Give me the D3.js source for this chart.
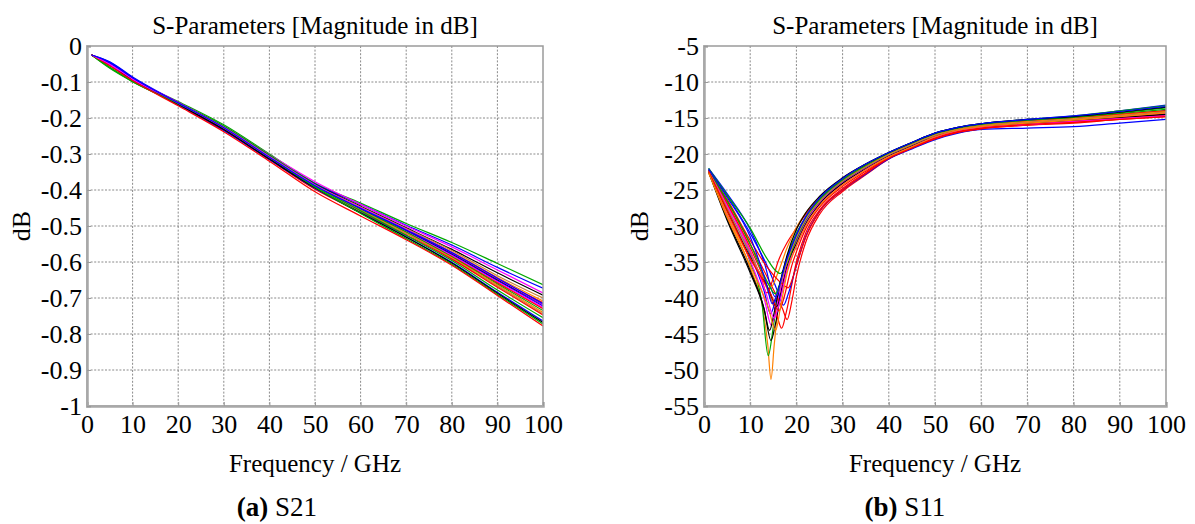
<!DOCTYPE html>
<html>
<head>
<meta charset="utf-8">
<script src="https://cdn.jsdelivr.net/npm/d3@7/dist/d3.min.js"></script>
<style>
  body { margin: 0; background: #fff; }
  svg { display: block; }
  svg text { font-family: "Liberation Serif", "Times New Roman", serif; }
</style>
</head>
<body>
<svg width="1195" height="524"></svg>
<script>
// ---- data ----
var xTicks = [0, 10, 20, 30, 40, 50, 60, 70, 80, 90, 100];

var y21Ticks = [0, -0.1, -0.2, -0.3, -0.4, -0.5, -0.6, -0.7, -0.8, -0.9, -1];
var y21Labels = ["0", "-0.1", "-0.2", "-0.3", "-0.4", "-0.5", "-0.6", "-0.7", "-0.8", "-0.9", "-1"];
var y11Ticks = [-5, -10, -15, -20, -25, -30, -35, -40, -45, -50, -55];
var y11Labels = ["-5", "-10", "-15", "-20", "-25", "-30", "-35", "-40", "-45", "-50", "-55"];

// S21: one frequency grid, one value array per trace
var freq21 = [1, 5, 10, 20, 30, 40, 50, 60, 70, 80, 90, 100];
var s21Colors = ["#00a800", "#0000ff", "#ff00ff", "#000000", "#c8803c", "#ff8000", "#ff0000", "#000000",
                 "#0000ff", "#ff00ff", "#ff0000", "#00a800", "#ff8000", "#c8803c", "#ff0000", "#00a800",
                 "#0000ff", "#000000", "#00a800", "#ff0000", "#ff00ff", "#0000ff"];
var s21Values = [
  [-0.025, -0.050, -0.092, -0.154, -0.219, -0.300, -0.381, -0.436, -0.493, -0.546, -0.604, -0.663],
  [-0.025, -0.044, -0.086, -0.157, -0.225, -0.304, -0.383, -0.440, -0.498, -0.553, -0.615, -0.673],
  [-0.025, -0.048, -0.090, -0.156, -0.223, -0.302, -0.377, -0.440, -0.500, -0.558, -0.622, -0.686],
  [-0.025, -0.050, -0.092, -0.158, -0.226, -0.306, -0.384, -0.445, -0.505, -0.565, -0.630, -0.692],
  [-0.025, -0.051, -0.093, -0.159, -0.227, -0.307, -0.386, -0.447, -0.507, -0.568, -0.638, -0.700],
  [-0.025, -0.052, -0.093, -0.160, -0.228, -0.308, -0.388, -0.450, -0.510, -0.572, -0.643, -0.708],
  [-0.025, -0.053, -0.094, -0.161, -0.229, -0.310, -0.389, -0.452, -0.512, -0.575, -0.647, -0.713],
  [-0.025, -0.052, -0.093, -0.160, -0.228, -0.309, -0.389, -0.453, -0.514, -0.578, -0.650, -0.718],
  [-0.025, -0.047, -0.090, -0.159, -0.228, -0.309, -0.390, -0.454, -0.515, -0.580, -0.652, -0.722],
  [-0.025, -0.050, -0.092, -0.159, -0.227, -0.309, -0.390, -0.455, -0.516, -0.582, -0.655, -0.726],
  [-0.025, -0.054, -0.095, -0.162, -0.231, -0.313, -0.393, -0.457, -0.518, -0.585, -0.658, -0.730],
  [-0.025, -0.062, -0.099, -0.158, -0.222, -0.303, -0.385, -0.452, -0.517, -0.586, -0.661, -0.735],
  [-0.025, -0.053, -0.094, -0.161, -0.230, -0.311, -0.392, -0.457, -0.520, -0.588, -0.664, -0.740],
  [-0.025, -0.052, -0.094, -0.161, -0.229, -0.311, -0.392, -0.458, -0.521, -0.590, -0.667, -0.744],
  [-0.025, -0.054, -0.095, -0.163, -0.233, -0.316, -0.398, -0.462, -0.525, -0.592, -0.670, -0.747],
  [-0.025, -0.059, -0.098, -0.160, -0.225, -0.306, -0.388, -0.458, -0.526, -0.596, -0.678, -0.755],
  [-0.025, -0.048, -0.091, -0.163, -0.235, -0.315, -0.395, -0.463, -0.530, -0.601, -0.684, -0.764],
  [-0.025, -0.053, -0.094, -0.162, -0.232, -0.314, -0.394, -0.464, -0.531, -0.603, -0.687, -0.768],
  [-0.025, -0.060, -0.099, -0.160, -0.226, -0.308, -0.392, -0.465, -0.535, -0.606, -0.690, -0.772],
  [-0.025, -0.055, -0.096, -0.166, -0.238, -0.320, -0.405, -0.472, -0.538, -0.609, -0.693, -0.778],
  [-0.025, -0.051, -0.092, -0.158, -0.226, -0.307, -0.386, -0.449, -0.509, -0.574, -0.646, -0.718],
  [-0.025, -0.045, -0.088, -0.158, -0.227, -0.309, -0.388, -0.451, -0.511, -0.574, -0.645, -0.716]
];

// S11: every trace has its own dip, so [GHz, dB] pairs per trace
var s11Colors = ["#ff8000", "#00a800", "#000000", "#ff00ff", "#ff0000", "#ff0000", "#0000ff",
                 "#0000ff", "#000000", "#ff0000", "#0000ff", "#ff8000", "#00a800", "#ff0000",
                 "#00a800", "#000000", "#ff00ff", "#c8803c", "#ff0000", "#ff8000", "#0000ff"];
var s11Points = [
  [[1,-22.6],[5,-28.5],[10,-35.8],[13,-42.5],[13.8,-46.5],[14.5,-51.3],[15.2,-46.5],[16,-41.5],[18,-36],[20,-32.2],[22,-29.6],[25,-27],[30,-24.2],[35,-22.2],[40,-20.3],[45,-18.9],[50,-17.6],[55,-16.7],[60,-16.2],[70,-15.7],[80,-15.3],[90,-14.8],[100,-14.3]],
  [[1,-22.5],[5,-28],[10,-35],[12.5,-40.5],[13.9,-48],[15,-44],[16,-40],[18,-35.5],[20,-32],[22,-29.5],[25,-26.8],[30,-23.9],[35,-21.9],[40,-20.1],[45,-18.7],[50,-17.4],[55,-16.5],[60,-16],[70,-15.5],[80,-15],[90,-14.4],[100,-13.8]],
  [[1,-22.4],[5,-29],[10,-36.2],[13,-41.5],[14.5,-45.9],[15.5,-43.5],[17,-38],[20,-31.5],[22,-29],[25,-26.5],[30,-23.7],[35,-21.7],[40,-20],[45,-18.6],[50,-17.3],[55,-16.5],[60,-16],[70,-15.5],[80,-15.1],[90,-14.6],[100,-14]],
  [[1,-22.5],[5,-28.3],[10,-34.8],[13,-40],[14.6,-43.8],[15.6,-41.5],[17,-37.5],[20,-32],[22,-29.4],[25,-26.8],[30,-24],[35,-22],[40,-20.3],[45,-18.9],[50,-17.6],[55,-16.8],[60,-16.3],[70,-15.8],[80,-15.4],[90,-14.9],[100,-14.4]],
  [[1,-22.3],[5,-26.8],[10,-33],[14,-39],[15.8,-42.5],[16.8,-44.2],[17.8,-42],[20,-35],[22,-31],[25,-27.8],[30,-24.8],[35,-22.6],[40,-20.6],[45,-19.1],[50,-17.8],[55,-16.9],[60,-16.4],[70,-15.9],[80,-15.5],[90,-15],[100,-14.5]],
  [[1,-22.4],[5,-26.5],[10,-32.5],[14,-37.5],[17,-41.5],[18,-43],[19,-40.5],[20,-37],[22,-32.3],[25,-28.4],[30,-25.2],[35,-22.9],[40,-20.7],[45,-19.2],[50,-17.9],[55,-17],[60,-16.5],[70,-16],[80,-15.6],[90,-15.1],[100,-14.6]],
  [[1,-22.3],[5,-27.5],[10,-34],[13,-39],[14.4,-42.2],[15.4,-40.5],[17,-36.8],[20,-31.8],[22,-29.2],[25,-26.6],[30,-23.8],[35,-21.8],[40,-20.1],[45,-18.7],[50,-17.4],[55,-16.6],[60,-16.1],[70,-15.6],[80,-15.2],[90,-14.7],[100,-14.1]],
  [[1,-22.2],[5,-25.8],[10,-31],[14,-36],[16.2,-39.5],[17.2,-41],[18.2,-39.5],[20,-35.5],[22,-31.5],[25,-28],[30,-25],[35,-22.8],[40,-20.7],[45,-19.3],[50,-18],[55,-17.1],[60,-16.6],[70,-16.4],[80,-16.2],[90,-15.7],[100,-15.2]],
  [[1,-22.4],[5,-27.8],[10,-34.3],[14,-38.8],[15.7,-41.2],[16.7,-39.5],[18,-35.5],[20,-32.5],[22,-29.8],[25,-27],[30,-24.1],[35,-22.1],[40,-20.3],[45,-18.9],[50,-17.6],[55,-16.7],[60,-16.2],[70,-15.7],[80,-15.3],[90,-14.9],[100,-14.5]],
  [[1,-22.3],[5,-27],[10,-33.5],[12.5,-37.5],[13.6,-39.3],[14.6,-38],[16,-35],[18,-32.3],[20,-30.3],[22,-28.4],[25,-26.2],[30,-23.6],[35,-21.7],[40,-20],[45,-18.6],[50,-17.3],[55,-16.5],[60,-16],[70,-15.4],[80,-15],[90,-14.5],[100,-14]],
  [[1,-22],[5,-25.5],[10,-30.5],[13,-35],[15.4,-39.8],[16.4,-38.2],[18,-34.5],[20,-31.5],[22,-29],[25,-26.4],[30,-23.5],[35,-21.5],[40,-19.8],[45,-18.4],[50,-17.1],[55,-16.3],[60,-15.8],[70,-15.3],[80,-14.8],[90,-14],[100,-13.2]],
  [[1,-22.5],[5,-28.2],[10,-34.5],[13,-37.3],[14.6,-38.4],[16,-36.5],[18,-33],[20,-30.2],[22,-28.2],[25,-26],[30,-23.4],[35,-21.6],[40,-20],[45,-18.6],[50,-17.3],[55,-16.5],[60,-16],[70,-15.5],[80,-15.1],[90,-14.6],[100,-14.1]],
  [[1,-22],[5,-25.7],[10,-30.3],[13.6,-34.5],[15.5,-36.2],[16.5,-36.6],[17.5,-35.8],[20,-31.8],[22,-29.2],[25,-26.4],[30,-23.4],[35,-21.4],[40,-19.8],[45,-18.4],[50,-17.1],[55,-16.3],[60,-15.8],[70,-15.2],[80,-14.7],[90,-14],[100,-13.3]],
  [[1,-22.3],[5,-26.3],[10,-32],[14,-36],[17.2,-38.2],[18.2,-38.6],[19.2,-37.2],[20,-35.5],[22,-31.6],[25,-28],[30,-25],[35,-22.7],[40,-20.6],[45,-19.2],[50,-17.9],[55,-17],[60,-16.5],[70,-16],[80,-15.7],[90,-15.2],[100,-14.8]],
  [[1,-22.3],[5,-26.5],[10,-32.5],[13.5,-37.5],[15.4,-39.4],[16.4,-38],[18,-34.2],[20,-31],[22,-28.8],[25,-26.3],[30,-23.6],[35,-21.6],[40,-19.9],[45,-18.5],[50,-17.2],[55,-16.4],[60,-15.9],[70,-15.3],[80,-14.9],[90,-14.3],[100,-13.6]],
  [[1,-22.5],[5,-29.2],[10,-36.5],[13,-41.5],[14.2,-44.5],[15.2,-42],[16.5,-37.8],[18,-34],[20,-30.5],[22,-28.2],[25,-25.9],[30,-23.3],[35,-21.4],[40,-19.8],[45,-18.4],[50,-17.1],[55,-16.3],[60,-15.8],[70,-15.2],[80,-14.8],[90,-14.2],[100,-13.5]],
  [[1,-22.4],[5,-27.2],[10,-33.5],[13.5,-39.5],[15.2,-42.8],[16.2,-41],[18,-36],[20,-32.8],[22,-30],[25,-27.2],[30,-24.3],[35,-22.2],[40,-20.4],[45,-19],[50,-17.7],[55,-16.8],[60,-16.3],[70,-15.9],[80,-15.5],[90,-15.1],[100,-14.7]],
  [[1,-22.4],[5,-27.5],[10,-33.8],[13.5,-38.5],[15,-40.5],[16,-39.2],[18,-35],[20,-31.6],[22,-29.1],[25,-26.6],[30,-23.8],[35,-21.8],[40,-20.1],[45,-18.7],[50,-17.4],[55,-16.6],[60,-16.1],[70,-15.6],[80,-15.2],[90,-14.7],[100,-14.2]],
  [[1,-22.4],[5,-27.8],[10,-34.5],[14.5,-39.5],[16.2,-41.8],[17.2,-40.2],[19,-35.5],[20,-33.6],[22,-30.4],[25,-27.4],[30,-24.5],[35,-22.4],[40,-20.5],[45,-19.1],[50,-17.8],[55,-16.9],[60,-16.4],[70,-15.9],[80,-15.6],[90,-15.2],[100,-14.8]],
  [[1,-22.6],[5,-28.8],[10,-35.5],[14,-41.5],[15.5,-44.5],[16.5,-41.5],[18,-36.5],[20,-32.8],[22,-30],[25,-27.2],[30,-24.3],[35,-22.2],[40,-20.4],[45,-19],[50,-17.6],[55,-16.7],[60,-16.2],[70,-15.7],[80,-15.3],[90,-14.8],[100,-14.3]],
  [[1,-22.1],[5,-26],[10,-31.5],[13.5,-38],[14.8,-40.8],[15.8,-39.5],[17.5,-35.5],[20,-31.2],[22,-28.7],[25,-26.1],[30,-23.4],[35,-21.4],[40,-19.8],[45,-18.4],[50,-17.1],[55,-16.3],[60,-15.8],[70,-15.2],[80,-14.7],[90,-14.1],[100,-13.4]]
];

var titleText = "S-Parameters [Magnitude in dB]";
var xLabelText = "Frequency / GHz";
var yLabelText = "dB";
var serif = "'Liberation Serif', 'Times New Roman', serif";

var svg = d3.select("svg");

// one panel = grid + frame + traces + texts
function drawPanel(p) {
  var x = d3.scaleLinear().domain([0, 100]).range([p.left, p.left + p.width]);
  var y = d3.scaleLinear().domain(p.yDomain).range([p.top, p.top + p.height]);
  var g = svg.append("g");

  // dotted grid
  g.append("g").selectAll("line").data(xTicks.slice(1, -1)).enter().append("line")
    .attr("x1", function (d) { return x(d); }).attr("x2", function (d) { return x(d); })
    .attr("y1", p.top).attr("y2", p.top + p.height)
    .attr("stroke", "#8a8a8a").attr("stroke-width", 1).attr("stroke-dasharray", "2,1.6");
  g.append("g").selectAll("line").data(p.yTicks.slice(1, -1)).enter().append("line")
    .attr("x1", p.left).attr("x2", p.left + p.width)
    .attr("y1", function (d) { return y(d); }).attr("y2", function (d) { return y(d); })
    .attr("stroke", "#8a8a8a").attr("stroke-width", 1).attr("stroke-dasharray", "2,1.6");

  // traces
  var line = d3.line()
    .x(function (d) { return x(d[0]); })
    .y(function (d) { return y(d[1]); })
    .curve(d3.curveMonotoneX);
  var clipId = "clip" + p.left;
  g.append("clipPath").attr("id", clipId).append("rect")
    .attr("x", p.left).attr("y", p.top).attr("width", p.width).attr("height", p.height);
  g.append("g").attr("clip-path", "url(#" + clipId + ")")
    .selectAll("path").data(p.series).enter().append("path")
    .attr("d", line)
    .attr("fill", "none")
    .attr("stroke", function (d, i) { return p.colors[i]; })
    .attr("stroke-width", 1.2);

  // frame
  g.append("rect").attr("x", p.left).attr("y", p.top).attr("width", p.width).attr("height", p.height)
    .attr("fill", "none").attr("stroke", "#9a9a9a").attr("stroke-width", 1.5);

  // axes
  var ax = g.append("g").attr("transform", "translate(0," + (p.top + p.height) + ")")
    .call(d3.axisBottom(x).tickValues(xTicks).tickSize(-4).tickPadding(9)
      .tickFormat(function (d) { return String(d); }));
  var ay = g.append("g").attr("transform", "translate(" + p.left + ",0)")
    .call(d3.axisLeft(y).tickValues(p.yTicks).tickSize(-4).tickPadding(5)
      .tickFormat(function (d, i) { return p.yLabels[i]; }));
  [ax, ay].forEach(function (a) {
    a.attr("font-family", serif).attr("font-size", 26);
    a.select(".domain").attr("stroke", "#a8a8a8").attr("stroke-width", 2.5);
    a.selectAll(".tick line").attr("stroke", "#9a9a9a");
    a.selectAll(".tick text").attr("fill", "#000")
      .style("font-family", serif).style("font-size", "26px");
  });

  var cx = p.left + p.width / 2;
  svg.append("text").attr("x", cx).attr("y", 34).attr("text-anchor", "middle")
    .style("font-family", serif).style("font-size", "25px").text(titleText);
  svg.append("text").attr("x", cx).attr("y", 472).attr("text-anchor", "middle")
    .style("font-family", serif).style("font-size", "25px").text(xLabelText);
  svg.append("text").attr("transform", "translate(" + p.yLabelX + "," + (p.top + p.height / 2) + ") rotate(-90)")
    .attr("text-anchor", "middle").style("font-family", serif).style("font-size", "26px").text(yLabelText);

  var cap = svg.append("text").attr("x", p.captionX).attr("y", 516).attr("text-anchor", "middle")
    .style("font-family", serif).style("font-size", "27px");
  cap.append("tspan").attr("font-weight", "bold").text(p.captionTag);
  cap.append("tspan").text(" " + p.captionName);
}

drawPanel({
  left: 87, top: 46, width: 456, height: 360,
  yDomain: [0, -1], yTicks: y21Ticks, yLabels: y21Labels,
  series: s21Values.map(function (vals) { return freq21.map(function (f, i) { return [f, vals[i]]; }); }),
  colors: s21Colors, yLabelX: 30, captionX: 277, captionTag: "(a)", captionName: "S21"
});

drawPanel({
  left: 704, top: 46, width: 462, height: 360,
  yDomain: [-5, -55], yTicks: y11Ticks, yLabels: y11Labels,
  series: s11Points,
  colors: s11Colors, yLabelX: 648, captionX: 905, captionTag: "(b)", captionName: "S11"
});
</script>
</body>
</html>
